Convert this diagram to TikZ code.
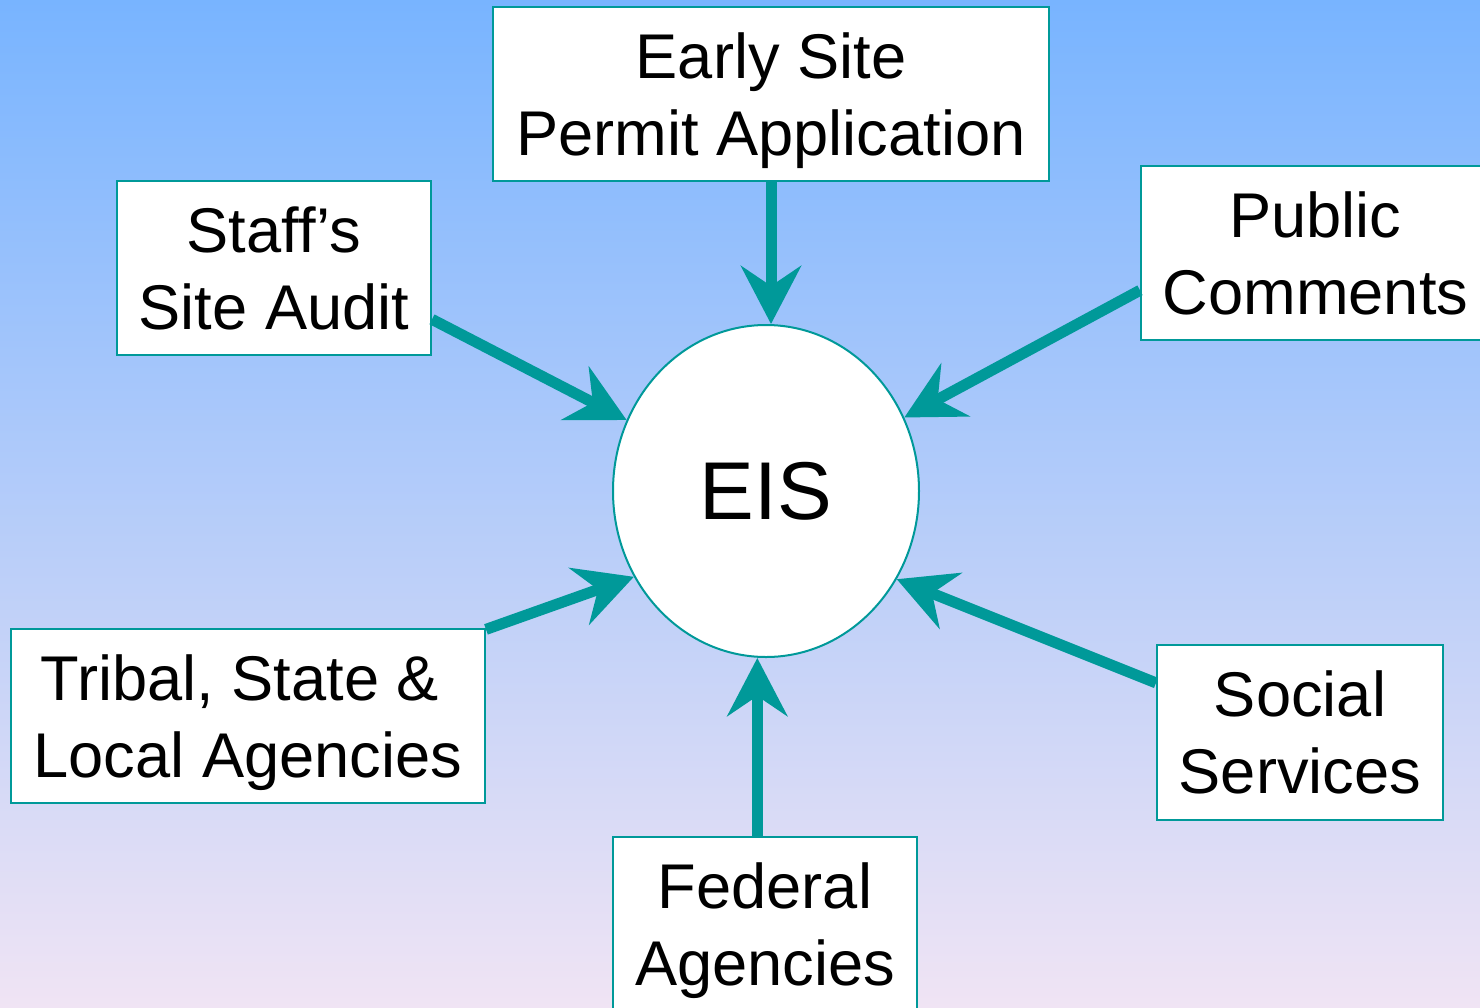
\documentclass[tikz,border=0pt]{standalone}
\usepackage{fontspec}
\setmainfont{Liberation Sans}
\usepackage{tikz}
\usetikzlibrary{shapes.geometric, positioning}
\usetikzlibrary{arrows.meta}
\definecolor{teal1}{HTML}{009999}
\definecolor{skytop}{HTML}{78B4FF}
\definecolor{skybot}{HTML}{F0E4F4}
\tikzset{
  srcbox/.style={draw=teal1, line width=1pt, fill=white, align=center, inner sep=0pt,
    minimum height=87pt, text depth=-2pt, font=\fontsize{31.6}{38.5}\selectfont},
  feed/.style={draw=teal1, line width=5.5pt, -{Stealth[length=29pt,width=30pt,inset=10pt]}}
}

\begin{document}
\begin{tikzpicture}[x=0.5pt, y=-0.5pt]
        \useasboundingbox (0,0) rectangle (1480,1008);
        \clip (0,0) rectangle (1480,1008);
        \shade[top color=skytop, bottom color=skybot] (0,0) rectangle (1480,1008);
        % the centre
        \node[ellipse, draw=teal1, line width=1pt, fill=white, minimum width=153pt,
          minimum height=166pt, inner sep=0pt, font=\fontsize{41}{48}\selectfont] (eis) at (766,491) {EIS};
        % the sources
        \node[srcbox, minimum width=278pt] (early) at (771,94) {Early Site\\Permit Application};
        \node[srcbox, minimum width=157pt] (staff) at (274,268) {Staff’s\\Site Audit};
        \node[srcbox, minimum width=174.5pt] (public) at (1315.5,253) {Public\\Comments};
        \node[srcbox, minimum width=237pt] (tribal) at (248,716) {Tribal, State \&\kern8pt\\Local Agencies};
        \node[srcbox, minimum width=143pt, minimum height=87.5pt] (social) at (1300,732.5) {Social\\Services};
        \node[srcbox, minimum width=152pt] (federal) at (765,924) {Federal\\Agencies};
        % arrows into the EIS
        \draw[feed] (early.south) -- (early.south |- eis.north);
        \draw[feed] (staff.-18.3) -- (eis.153);
        \draw[feed] (public.192.9) -- (eis.28);
        \draw[feed] (tribal.20) -- (eis.213.4);
        \draw[feed] (social.161.3) -- (eis.326.4);
        \draw[feed] (federal.95.3) -- (federal.95.3 |- eis.south);
    \end{tikzpicture}
\end{document}
